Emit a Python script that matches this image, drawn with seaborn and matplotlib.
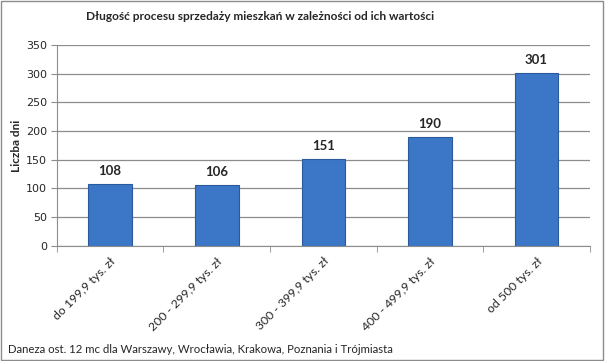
import numpy as np
import seaborn as sns
import matplotlib.pyplot as plt
from matplotlib.patches import Rectangle

categories = ["do 199,9 tys. zł", "200 - 299,9 tys. zł", "300 - 399,9 tys. zł",
              "400 - 499,9 tys. zł", "od 500 tys. zł"]
days = [108, 106, 151, 190, 301]

sns.set_style("white")
plt.rcParams['font.family'] = ['Lato', 'DejaVu Sans']

fig = plt.figure(figsize=(6.05, 3.61), dpi=100)
ax = fig.add_axes([0.094, 0.319, 0.881, 0.556])

sns.barplot(x=categories, y=days, color="#3b77c6", width=0.41,
            edgecolor="#2a5a9c", linewidth=0.8, saturation=1, ax=ax)

ax.set_ylim(0, 350)
ax.set_xlim(-0.5, 4.5)
ax.set_yticks(np.arange(0, 351, 50))
ax.yaxis.grid(True, color="#8c8c8c", linewidth=0.9)
ax.set_axisbelow(True)
for s in ["top", "right"]:
    ax.spines[s].set_visible(False)
for s in ["left", "bottom"]:
    ax.spines[s].set_color("#8c8c8c")
ax.tick_params(axis="y", left=True, length=4, color="#8c8c8c", labelsize=8.5, pad=3)
ax.tick_params(axis="x", bottom=False, labelsize=8.8)
ax.set_xticks(np.arange(-0.5, 4.6, 1), minor=True)
ax.tick_params(axis="x", which="minor", bottom=True, length=4, color="#8c8c8c")
for lab in ax.get_yticklabels():
    lab.set_fontfamily("DejaVu Sans")
    lab.set_fontsize(8)
plt.setp(ax.get_xticklabels(), rotation=45, ha="right", rotation_mode="anchor")

for bar, v in zip(ax.patches, days):
    ax.text(bar.get_x() + bar.get_width() / 2, v + 12, str(v), ha="center",
            va="bottom", fontsize=9.5, fontweight="bold")

ax.set_ylabel("Liczba dni", fontsize=8.5, fontweight="bold", labelpad=3)
fig.text(0.43, 0.955, "Długość procesu sprzedaży mieszkań w zależności od ich wartości",
         ha="center", va="center", fontsize=8.6, fontweight="bold")
fig.text(0.013, 0.033, "Daneza ost. 12 mc dla Warszawy, Wrocławia, Krakowa, Poznania i Trójmiasta",
         ha="left", va="center", fontsize=8.2)

fig.patches.append(Rectangle((0.002, 0.003), 0.995, 0.993, transform=fig.transFigure,
                             fill=False, edgecolor="#8c8c8c", linewidth=1))

fig.savefig("out.png", dpi=100)
